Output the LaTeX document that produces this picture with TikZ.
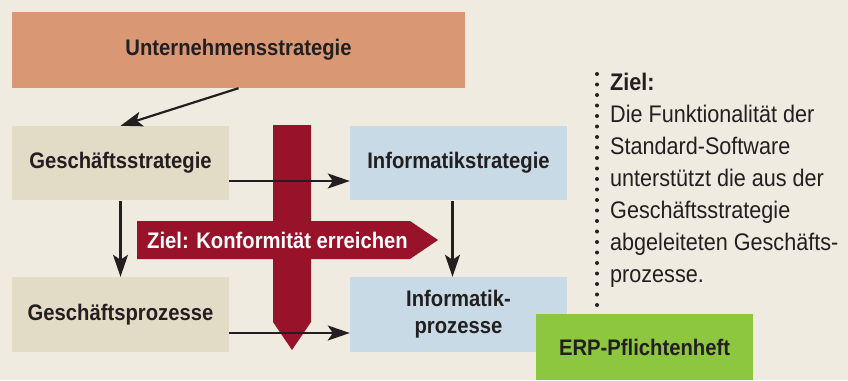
\documentclass[tikz,border=0pt]{standalone}
\usepackage{fontspec}
\setmainfont{Liberation Sans}[FakeStretch=0.9]
\usetikzlibrary{arrows.meta}

\definecolor{grund}{HTML}{EFEBE0}
\definecolor{unternehmen}{HTML}{D99873}
\definecolor{geschaeft}{HTML}{E2DCC6}
\definecolor{informatik}{HTML}{C8DAE5}
\definecolor{zielrot}{HTML}{98122A}
\definecolor{erpgruen}{HTML}{8DC63F}
\definecolor{schrift}{HTML}{231F20}

\tikzset{
  box/.style={rectangle,minimum width=217pt,minimum height=74pt,inner sep=0pt,align=center,
    text=schrift,font=\fontsize{22.5}{27}\selectfont\bfseries},
  pfeil/.style={draw=schrift,line width=2.2pt,-{Stealth[length=22pt,width=15pt,inset=5pt]}},
  punktlinie/.style={draw=schrift,line width=4pt,line cap=round,dash pattern=on 0pt off 10.5pt},
}

\begin{document}
\begin{tikzpicture}[x=1pt,y=-1pt]
\fill[grund] (0,0) rectangle (848,380);
\useasboundingbox (0,0) rectangle (848,380);

% Kaesten
\node[box,fill=unternehmen,minimum width=453pt,minimum height=76pt] (unt) at (238.5,50) {Unternehmensstrategie};
\node[box,fill=geschaeft] (gs) at (120.5,163) {Geschäftsstrategie};
\node[box,fill=informatik] (is) at (458.5,163) {Informatikstrategie};
\node[box,fill=geschaeft,minimum height=75pt] (gp) at (120.5,314.5) {Geschäftsprozesse};
\node[box,fill=informatik,minimum height=75pt] (ip) at (458.5,314.5) {Informatik-\\prozesse};

% rote Pfeile
\fill[zielrot] (273,125) -- (311,125) -- (311,322) -- (292,350) -- (273,322) -- cycle;
\fill[zielrot] (137,221) -- (410,221) -- (438,240) -- (410,259) -- (137,259) -- cycle;
\node[anchor=west,inner sep=0pt,text=white,font=\fontsize{22.5}{27}\selectfont\bfseries] (konf) at (147,240) {Ziel: Konformität erreichen};

% Verbindungen
\draw[pfeil] (unt.south) -- (gs.north);
\draw[pfeil] ([yshift=-18pt]gs.east) -- ([yshift=-18pt]is.west);
\draw[pfeil] ([yshift=-1pt]gs.south) -- (gp.north);
\draw[pfeil] ([xshift=-6pt,yshift=-1pt]is.south) -- ([xshift=-6pt]ip.north);
\draw[pfeil] ([yshift=-18.5pt]gp.east) -- ([yshift=-18.5pt]ip.west);

\node[box,fill=erpgruen,minimum height=66pt] (erp) at (644.5,347) {ERP-Pflichtenheft};

% Ziel-Text rechts
\coordinate (punkt) at (597,74);
\draw[punktlinie] (punkt) -- (punkt |- erp.north);
\node[anchor=base west,align=left,inner sep=0pt,text=schrift,font=\fontsize{24}{32}\selectfont] (ziel) at (610,282)
  {\textbf{Ziel:}\\Die Funktionalität der\\Standard-Software\\unterstützt die aus der\\Geschäftsstrategie\\abgeleiteten Geschäfts-\\prozesse.};
\end{tikzpicture}
\end{document}
